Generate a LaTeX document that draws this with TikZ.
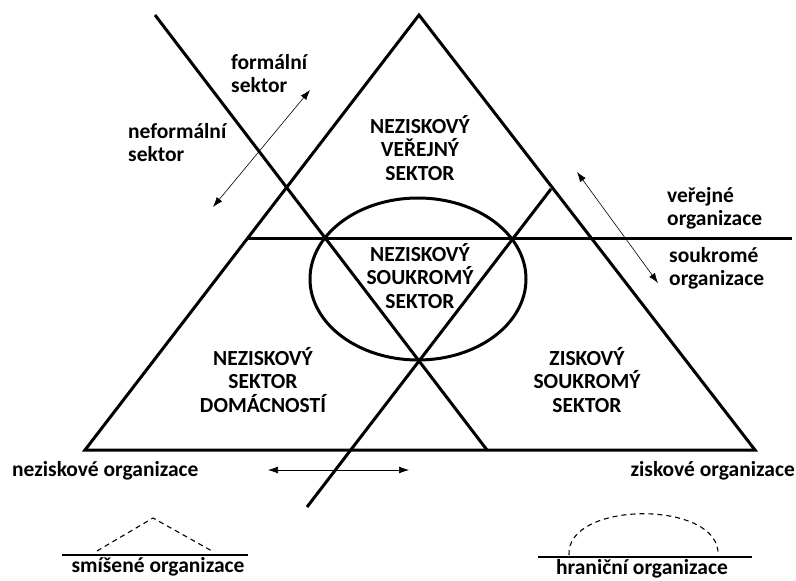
\documentclass[tikz,border=0pt]{standalone}
\usepackage{fontspec}
\setmainfont{Carlito}
\usetikzlibrary{arrows.meta,shapes.geometric}
\begin{document}
\begin{tikzpicture}[x=1pt,y=-1pt,
  heavy/.style={line width=3pt},
  base/.style={line width=2pt},
  dbl/.style={line width=0.6pt,{Latex[length=10pt,width=7pt]}-{Latex[length=10pt,width=7pt]}},
  dashline/.style={line width=1.1pt,dash pattern=on 5pt off 4pt},
  sector/.style={font=\fontsize{21.5}{23.5}\selectfont\bfseries,align=center,inner sep=0pt},
  lbl/.style={font=\fontsize{21.5}{23.5}\selectfont\bfseries,align=left,inner sep=0pt,anchor=north west},
  org/.style={font=\fontsize{21.5}{23.5}\selectfont\bfseries,inner sep=0pt}]
\useasboundingbox (0,0) rectangle (796,581);
% outer triangle
\coordinate (A) at (419,15);
\coordinate (B) at (85,450);
\coordinate (C) at (755,450);
\draw[heavy,line join=miter] (A) -- (B) -- (C) -- cycle;
% crossing lines
\coordinate (h1) at (248,238);
\coordinate (h2) at (792,238);
\draw[heavy] (h1) -- (h2);
\coordinate (l1a) at (155,15);
\coordinate (l1b) at (487,450);
\draw[heavy] (l1a) -- (l1b);
\coordinate (l2a) at (551,189);
\coordinate (l2b) at (307,507);
\draw[heavy] (l2a) -- (l2b);
% ellipse
\node[draw,ellipse,heavy,minimum width=216pt,minimum height=162pt,inner sep=0pt] (ell) at (418,279) {};
% sector texts
\node[sector] (pub) at (420,148) {NEZISKOVÝ\\VEŘEJNÝ\\SEKTOR};
\node[sector] (npriv) at (420,276) {NEZISKOVÝ\\SOUKROMÝ\\SEKTOR};
\node[sector] (hh) at (263,380) {NEZISKOVÝ\\SEKTOR\\DOMÁCNOSTÍ};
\node[sector] (prof) at (587,380) {ZISKOVÝ\\SOUKROMÝ\\SEKTOR};
% side labels
\node[lbl] (form) at (231,54) {formální\\sektor};
\node[lbl] (neform) at (128,123) {neformální\\sektor};
\node[lbl] (verej) at (667,187) {veřejné\\organizace};
\node[lbl] (soukr) at (669,247) {soukromé\\organizace};
\node[org,anchor=west] (nezorg) at (12,471) {neziskové organizace};
\node[org,anchor=east] (ziskorg) at (795,471) {ziskové organizace};
% arrows
\coordinate (a1s) at (213,207);
\coordinate (a1e) at (310,90);
\draw[dbl] (a1s) -- (a1e);
\coordinate (a2s) at (577,172);
\coordinate (a2e) at (658,283);
\draw[dbl] (a2s) -- (a2e);
\coordinate (a3s) at (268,470);
\coordinate (a3e) at (409,470);
\draw[dbl] (a3s) -- (a3e);
% mixed organisations
\coordinate (m1) at (62,555);
\coordinate (m2) at (248,555);
\draw[base] (m1) -- (m2);
\coordinate (mt1) at (97,551);
\coordinate (mt2) at (153,518);
\coordinate (mt3) at (212,551);
\draw[dashline] (mt1) -- (mt2) -- (mt3);
\node[org] (mix) at (158,567) {smíšené organizace};
% boundary organisations
\coordinate (b1) at (538,557);
\coordinate (b2) at (752,557);
\draw[base] (b1) -- (b2);
\coordinate (bt1) at (569,555);
\coordinate (bt2) at (718,555);
\draw[dashline] (bt1) .. controls (566,500) and (721,500) .. (bt2);
\node[org] (bound) at (642,569) {hraniční organizace};
\end{tikzpicture}
\end{document}
